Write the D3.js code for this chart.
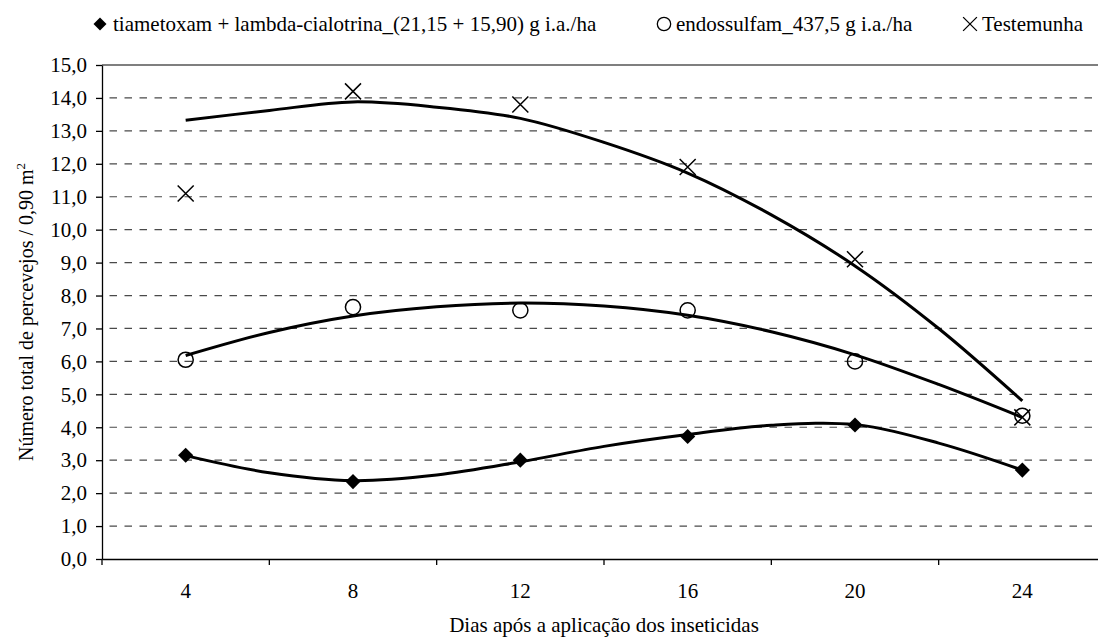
<!DOCTYPE html>
<html>
<head>
<meta charset="utf-8">
<script src="https://cdn.jsdelivr.net/npm/d3@7.9.0/dist/d3.min.js"></script>
<style>
  body { margin: 0; background: #fff; }
  svg, svg text { font-family: "Times New Roman", "Liberation Serif", "DejaVu Serif", serif; }
  svg { display: block; }
</style>
</head>
<body>
<div id="chart"></div>
<script>
// observed values
const days = [4, 8, 12, 16, 20, 24];
const tiametoxam = [3.15, 2.35, 3.0, 3.72, 4.07, 2.7];
const endossulfam = [6.05, 7.65, 7.55, 7.55, 6.0, 4.35];
const testemunha = [11.1, 14.2, 13.8, 11.9, 9.1, 4.3];

// trend lines, every 2 days
const trendDays = [4, 6, 8, 10, 12, 14, 16, 18, 20, 22, 24];
const tiametoxamTrend = [3.14, 2.62, 2.38, 2.55, 2.95, 3.42, 3.78, 4.06, 4.08, 3.52, 2.7];
const endossulfamTrend = [6.18, 6.88, 7.38, 7.66, 7.77, 7.68, 7.4, 6.9, 6.2, 5.3, 4.3];
const testemunhaTrend = [13.32, 13.62, 13.88, 13.72, 13.38, 12.65, 11.72, 10.45, 8.9, 7.0, 4.8];

const yTicks = [0, 1, 2, 3, 4, 5, 6, 7, 8, 9, 10, 11, 12, 13, 14, 15];
const seriesNames = [
  'tiametoxam + lambda-cialotrina_(21,15 + 15,90) g i.a./ha',
  'endossulfam_437,5 g i.a./ha',
  'Testemunha'
];

const width = 1098;
const height = 637;
const plot = { left: 102, right: 1106, top: 65, bottom: 559 };
const fontFamily = '"Times New Roman", "Liberation Serif", "DejaVu Serif", serif';

const svg = d3.select('#chart')
  .append('svg')
  .attr('width', width)
  .attr('height', height);

const x = d3.scaleBand()
  .domain(days)
  .range([plot.left, plot.right])
  .padding(0);

const xDay = d3.scaleLinear()
  .domain([days[0], days[days.length - 1]])
  .range([x(days[0]) + x.bandwidth() / 2, x(days[days.length - 1]) + x.bandwidth() / 2]);

const y = d3.scaleLinear()
  .domain([0, 15])
  .range([plot.bottom, plot.top]);

// dashed gridlines
svg.append('g')
  .selectAll('line')
  .data(yTicks.filter(d => d > 0 && d < 15))
  .join('line')
  .attr('x1', plot.left)
  .attr('x2', plot.right)
  .attr('y1', d => y(d))
  .attr('y2', d => y(d))
  .attr('stroke', '#4a4a4a')
  .attr('stroke-width', 1.2)
  .attr('stroke-dasharray', '7.5,7.5')
  .attr('stroke-dashoffset', 7.5);

// top border
svg.append('line')
  .attr('x1', plot.left)
  .attr('x2', plot.right)
  .attr('y1', y(15))
  .attr('y2', y(15))
  .attr('stroke', '#000')
  .attr('stroke-width', 1.2);

// y axis
const yAxis = d3.axisLeft(y)
  .tickValues(yTicks)
  .tickFormat(d => d.toFixed(1).replace('.', ','))
  .tickSize(6)
  .tickSizeOuter(0)
  .tickPadding(9);

const gy = svg.append('g')
  .attr('transform', `translate(${plot.left},0)`)
  .call(yAxis)
  .attr('font-family', fontFamily);
gy.selectAll('text').attr('font-size', 21).attr('fill', '#000');
gy.selectAll('line, path').attr('stroke', '#000').attr('stroke-width', 1.3);

// x axis
const xAxis = d3.axisBottom(x)
  .tickSize(0)
  .tickSizeOuter(0)
  .tickPadding(24);

const gx = svg.append('g')
  .attr('transform', `translate(0,${plot.bottom})`)
  .call(xAxis)
  .attr('font-family', fontFamily);
gx.selectAll('text').attr('font-size', 21).attr('fill', '#000');
gx.select('path').attr('stroke', '#000').attr('stroke-width', 1.3);

// tick marks between categories
gx.append('g')
  .selectAll('line')
  .data(days.map(d => x(d)).concat([plot.right]))
  .join('line')
  .attr('x1', d => d)
  .attr('x2', d => d)
  .attr('y1', 0)
  .attr('y2', 6)
  .attr('stroke', '#000')
  .attr('stroke-width', 1.3);

// trend lines
const line = d3.line()
  .x(d => xDay(d[0]))
  .y(d => y(d[1]))
  .curve(d3.curveCatmullRom.alpha(0.5));

[tiametoxamTrend, endossulfamTrend, testemunhaTrend].forEach(values => {
  svg.append('path')
    .datum(trendDays.map((d, i) => [d, values[i]]))
    .attr('fill', 'none')
    .attr('stroke', '#000')
    .attr('stroke-width', 3)
    .attr('d', line);
});

// markers
const diamondPath = d3.symbol().type(d3.symbolSquare).size(115)();
const circlePath = d3.symbol().type(d3.symbolCircle).size(180)();
const crossType = {
  draw(context, size) {
    const r = Math.sqrt(size) / 2;
    context.moveTo(-r, -r);
    context.lineTo(r, r);
    context.moveTo(r, -r);
    context.lineTo(-r, r);
  }
};
const crossPath = d3.symbol().type(crossType).size(256)();

function drawMarkers(values, kind) {
  const g = svg.append('g');
  g.selectAll('path')
    .data(values.map((v, i) => [days[i], v]))
    .join('path')
    .attr('transform', d => {
      const t = `translate(${x(d[0]) + x.bandwidth() / 2},${y(d[1])})`;
      return kind === 'diamond' ? t + ' rotate(45)' : t;
    })
    .attr('d', kind === 'diamond' ? diamondPath : kind === 'circle' ? circlePath : crossPath)
    .attr('fill', kind === 'diamond' ? '#000' : 'none')
    .attr('stroke', '#000')
    .attr('stroke-width', kind === 'diamond' ? 0 : 1.5);
}

drawMarkers(tiametoxam, 'diamond');
drawMarkers(endossulfam, 'circle');
drawMarkers(testemunha, 'cross');

// legend
const legendItems = [
  { name: seriesNames[0], kind: 'diamond', mx: 100, tx: 113 },
  { name: seriesNames[1], kind: 'circle', mx: 664, tx: 676 },
  { name: seriesNames[2], kind: 'cross', mx: 970, tx: 982 }
];
const legend = svg.append('g').attr('font-family', fontFamily);
legendItems.forEach(item => {
  legend.append('path')
    .attr('transform', `translate(${item.mx},24)` + (item.kind === 'diamond' ? ' rotate(45)' : ''))
    .attr('d', item.kind === 'diamond'
      ? d3.symbol().type(d3.symbolSquare).size(85)()
      : item.kind === 'circle'
        ? d3.symbol().type(d3.symbolCircle).size(140)()
        : d3.symbol().type(crossType).size(190)())
    .attr('fill', item.kind === 'diamond' ? '#000' : 'none')
    .attr('stroke', '#000')
    .attr('stroke-width', item.kind === 'diamond' ? 0 : 1.3);
  legend.append('text')
    .attr('x', item.tx)
    .attr('y', 31)
    .attr('font-size', 21)
    .text(item.name);
});

// axis titles
svg.append('text')
  .attr('x', (plot.left + plot.right) / 2)
  .attr('y', 632)
  .attr('text-anchor', 'middle')
  .attr('font-family', fontFamily)
  .attr('font-size', 21)
  .text('Dias após a aplicação dos inseticidas');

const yTitle = svg.append('text')
  .attr('transform', `translate(33,${(plot.top + plot.bottom) / 2}) rotate(-90)`)
  .attr('text-anchor', 'middle')
  .attr('font-family', fontFamily)
  .attr('font-size', 20);
yTitle.append('tspan').text('Número total de percevejos / 0,90 m');
yTitle.append('tspan').attr('dy', -8).attr('font-size', 13).text('2');
</script>
</body>
</html>
